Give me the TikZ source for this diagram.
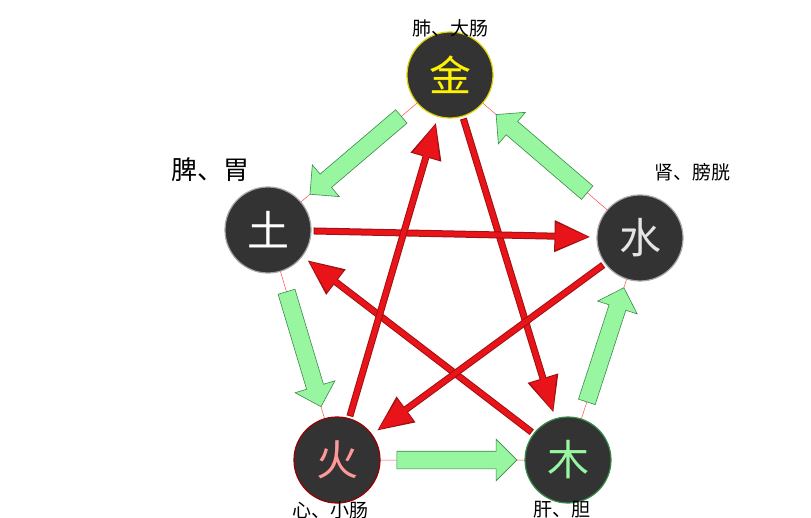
\documentclass[tikz,border=0pt]{standalone}
\usepackage{fontspec}
\newfontfamily\cjk{Noto Sans CJK SC}
\usetikzlibrary{shapes.arrows,arrows.meta}
\definecolor{disc}{HTML}{333333}
\definecolor{gfill}{HTML}{98F5A0}
\definecolor{gline}{HTML}{3A8A4A}
\definecolor{rfill}{HTML}{E8141A}
\definecolor{rline}{HTML}{A01010}
\tikzset{
  phase/.style={circle, fill=disc, draw=#1, line width=1.2pt, minimum width=86pt, inner sep=0pt, font=\cjk\fontsize{42}{42}\selectfont},
  organ/.style={font=\cjk\fontsize{19}{19}\selectfont},
  grow/.style={single arrow, fill=gfill, draw=gline, line width=0.6pt, minimum height=#1, single arrow head extend=12pt, inner xsep=0pt, inner ysep=8.5pt},
  beat/.style={draw=rline, line width=7pt, -{Triangle[length=36pt,width=30pt]}, shorten >=6pt, shorten <=2pt},
  beatin/.style={draw=rfill, line width=5pt, -{Triangle[length=33pt,width=26pt]}, shorten >=8pt, shorten <=3pt},
  rim/.style={draw=red!70, line width=0.5pt}
}
\begin{document}
\begin{tikzpicture}[x=1pt,y=-1pt]
\useasboundingbox (0,0) rectangle (811,518);

% rim of the pentagon
\draw[rim] (450,75) -- (640,238) -- (568,460) -- (337,460) -- (268,230) -- cycle;

\node[phase=yellow!70!olive, text=yellow] (jin) at (450,75) {金};
\node[phase=gray!70, text=white!80!gray] (shui) at (640,238) {水};
\node[phase=gline, text=gfill] (mu) at (568,460) {木};
\node[phase=red!60!black, text=red!40!white] (huo) at (337,460) {火};
\node[phase=gray!70, text=white] (tu) at (268,230) {土};

% organs
\node[organ] (l1) at (450,28) {肺、大肠};
\node[organ] (l2) at (692,172) {肾、膀胱};
\node[organ, font=\cjk\fontsize{26}{26}\selectfont] (l3) at (210,170) {脾、胃};
\node[organ] (l4) at (562,510) {肝、胆};
\node[organ] (l5) at (330,510) {心、小肠};

% red arrows
\foreach \a/\b in {jin/mu, mu/tu, tu/shui, shui/huo, huo/jin}{
  \draw[beat] (\a) -- (\b);
  \draw[beatin] (\a) -- (\b);
}

% green arrows
\foreach \a/\b in {jin/shui, shui/mu, mu/huo, huo/tu, tu/jin}{
  \path (\b) -- (\a) node[midway, sloped, allow upside down, grow=120pt] {};
}
\end{tikzpicture}
\end{document}
